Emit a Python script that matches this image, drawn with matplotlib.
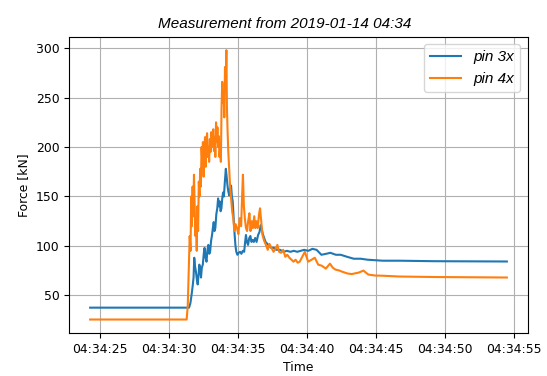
import pandas as pd
import numpy as np
import matplotlib
matplotlib.use("Agg")
import matplotlib.pyplot as plt
import matplotlib.dates as mdates

start = pd.Timestamp("2019-01-14 04:34:00")

# seconds after 04:34:00 and force in kN
pin3_sec = [24.28, 31.45, 31.55, 31.65, 31.72, 31.78, 31.83, 31.88, 31.95, 32.02,
            32.08, 32.15, 32.20, 32.27, 32.32, 32.38, 32.45, 32.52, 32.58, 32.65,
            32.72, 32.78, 32.85, 32.92, 32.98, 33.05, 33.12, 33.18, 33.24, 33.30,
            33.36, 33.43, 33.50, 33.56, 33.62, 33.68, 33.74, 33.80, 33.86, 33.92,
            33.98, 34.05, 34.12, 34.18, 34.24, 34.30, 34.37, 34.44, 34.50, 34.56,
            34.62, 34.70, 34.76, 34.82, 34.88, 34.96, 35.05, 35.15, 35.25, 35.35,
            35.45, 35.52, 35.58, 35.65, 35.73, 35.82, 35.90, 35.98, 36.06, 36.15,
            36.25, 36.35, 36.46, 36.56, 36.65, 36.72, 36.80, 36.90, 37.00, 37.20,
            37.40, 37.60, 37.80, 38.05, 38.30, 38.55, 38.80, 39.05, 39.30, 39.55,
            39.80, 40.10, 40.40, 40.70, 41.05, 41.40, 41.70, 42.10, 42.45, 42.90,
            43.40, 43.90, 44.40, 45.50, 46.70, 49.20, 54.50]
pin3_val = [37.5, 37.5, 42, 52, 60, 68, 88, 80, 74, 66,
            61, 72, 81, 75, 68, 78, 81, 92, 98, 88,
            84, 95, 101, 92, 94, 105, 111, 118, 124, 115,
            118, 132, 138, 148, 140, 145, 135, 138, 148, 154,
            150, 165, 178, 170, 161, 155, 151, 158, 161, 150,
            145, 125, 111, 100, 94, 91, 93, 94, 92, 95,
            94, 104, 111, 104, 101, 108, 110, 104, 106, 104,
            108, 104, 111, 114, 121, 117, 112, 108, 104, 101,
            98, 98, 96, 96, 94, 95, 94, 95, 94, 95,
            96, 95, 97, 96, 91, 92, 93, 91, 91, 89,
            87, 87, 86, 85, 85, 84.5, 84.2]

pin4_sec = [24.28, 31.28, 31.36, 31.43, 31.50, 31.56, 31.61, 31.66, 31.71, 31.76,
            31.81, 31.86, 31.91, 31.96, 32.01, 32.06, 32.11, 32.16, 32.21, 32.26,
            32.31, 32.36, 32.41, 32.46, 32.51, 32.56, 32.61, 32.66, 32.71, 32.76,
            32.81, 32.86, 32.91, 32.96, 33.01, 33.06, 33.11, 33.16, 33.21, 33.26,
            33.31, 33.36, 33.41, 33.46, 33.51, 33.56, 33.61, 33.66, 33.71, 33.76,
            33.81, 33.86, 33.91, 33.96, 34.01, 34.06, 34.11, 34.16, 34.20, 34.25,
            34.30, 34.35, 34.43, 34.50, 34.58, 34.66, 34.74, 34.83, 34.93, 35.03,
            35.13, 35.23, 35.30, 35.36, 35.43, 35.50, 35.58, 35.66, 35.74, 35.83,
            35.91, 36.00, 36.08, 36.18, 36.26, 36.34, 36.43, 36.53, 36.60, 36.69,
            36.78, 36.90, 37.03, 37.16, 37.28, 37.43, 37.58, 37.73, 37.86, 37.98,
            38.13, 38.28, 38.43, 38.58, 38.73, 38.88, 39.03, 39.18, 39.33, 39.48,
            39.63, 39.85, 40.09, 40.34, 40.57, 40.82, 41.07, 41.37, 41.67, 41.87,
            42.07, 42.37, 42.53, 42.96, 43.26, 43.76, 44.10, 44.45, 44.95, 45.50,
            46.70, 49.20, 54.50]
pin4_val = [25.5, 25.5, 40, 75, 110, 95, 150, 120, 160, 130,
            172, 140, 110, 125, 95, 140, 115, 165, 150, 178,
            160, 200, 185, 205, 170, 195, 210, 180, 205, 214,
            190, 200, 185, 208, 195, 215, 200, 212, 218, 196,
            210, 190, 225, 205, 220, 200, 211, 190, 200, 185,
            240, 266, 245, 256, 230, 281, 260, 298, 240, 215,
            195, 181, 160, 148, 135, 128, 115, 122, 118, 112,
            128, 120, 150, 172, 140, 128, 118, 115, 125, 133,
            115, 125, 118, 130, 118, 125, 118, 132, 138, 125,
            111, 105, 101, 96, 102, 98, 94, 97, 101, 94,
            93, 96, 89, 91, 88, 86, 84, 86, 83, 84,
            88, 94, 84, 86, 88, 81, 80, 77, 82, 78,
            76, 75, 74, 72, 71.5, 73, 75, 71, 70, 69.8,
            69, 68.5, 68]

pin3_time = start + pd.to_timedelta(pin3_sec, unit="s")
pin4_time = start + pd.to_timedelta(pin4_sec, unit="s")

fig = plt.figure(figsize=(5.47, 3.76), dpi=100)
ax = fig.add_axes([0.1267, 0.1144, 0.838, 0.788])

ax.plot(pin3_time, pin3_val, color="#1f77b4", lw=1.5, label="pin 3x")
ax.plot(pin4_time, pin4_val, color="#ff7f0e", lw=1.5, label="pin 4x")

ax.xaxis.set_major_locator(mdates.SecondLocator(bysecond=range(0, 60, 5)))
ax.xaxis.set_major_formatter(mdates.DateFormatter("%H:%M:%S"))
ax.set_yticks([50, 100, 150, 200, 250, 300])
ax.tick_params(labelsize=8.9)

ax.set_xlabel("Time", fontsize=8.9)
ax.set_ylabel("Force [kN]", fontsize=8.9)
ax.set_title("Measurement from 2019-01-14 04:34", x=0.4706, fontsize=11,
             family="Liberation Sans", style="italic")
ax.legend(loc="upper right",
          prop={"family": "Liberation Sans", "style": "italic", "size": 11})
ax.grid()

fig.savefig("out.png", dpi=100)
